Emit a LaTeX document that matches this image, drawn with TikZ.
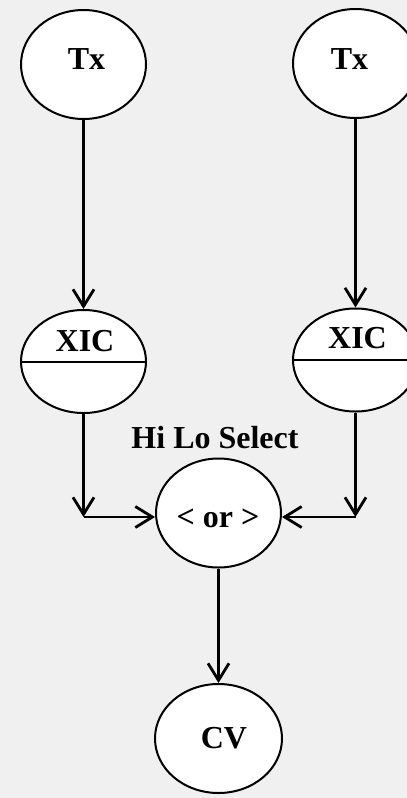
\documentclass[tikz,border=0pt]{standalone}
\usepackage{fontspec}
\setmainfont{Liberation Serif}
\usetikzlibrary{shapes.geometric,arrows.meta}
\definecolor{bggray}{HTML}{F0F0F0}

\begin{document}
\begin{tikzpicture}[x=1pt,y=-1pt,
    blob/.style={draw,ellipse,fill=white,line width=2pt,inner sep=0pt,minimum width=125pt,minimum height=109pt},
    tag/.style={font=\fontsize{32}{36}\selectfont\bfseries,inner sep=0pt,anchor=base},
    flow/.style={line width=2.8pt,-{Straight Barb[length=17pt,width=21pt]}}]
    \fill[bggray] (0,0) rectangle (407,798);
    \useasboundingbox (0,0) rectangle (407,798);
    \clip (0,0) rectangle (407,798);

    % transmitters
    \node[blob] (txL) at (83.5,64.5) {};
    \node[blob] (txR) at (355.5,63.5) {};
    \node[tag] (txLt) at (86.5,69) {Tx};
    \node[tag] (txRt) at (349.5,69) {Tx};

    % controllers, split in two halves
    \node[blob,minimum height=103pt] (xicL) at (83.5,361.5) {};
    \node[blob,minimum height=103pt] (xicR) at (355.5,360) {};
    \draw[line width=2pt] (xicL.west) -- (xicL.east);
    \draw[line width=2pt] (xicR.west) -- (xicR.east);
    \node[tag] (xicLt) at (85,351) {XIC};
    \node[tag] (xicRt) at (357.5,348) {XIC};

    % selector and output
    \node[tag] (hilo) at (215,448) {Hi Lo Select};
    \node[blob] (sel) at (218.5,513) {};
    \node[tag] (selt) at (218,527) {< or >};
    \node[blob,minimum width=127pt] (cv) at (218.5,738.5) {};
    \node[tag] (cvt) at (224,748) {CV};

    \coordinate (jL) at (83.5,517);
    \coordinate (jR) at (355.5,517);

    \draw[flow] (txL) -- (xicL);
    \draw[flow] (txR) -- (xicR);
    \draw[flow] (xicL) -- (jL);
    \draw[flow] (xicR) -- (jR);
    \draw[flow] (jL) -- (jL -| sel.west);
    \draw[flow] (jR) -- (jR -| sel.east);
    %\draw[flow] (sel) -- (cv.north);
    \draw[flow] (sel) -- (cv);
\end{tikzpicture}
\end{document}
